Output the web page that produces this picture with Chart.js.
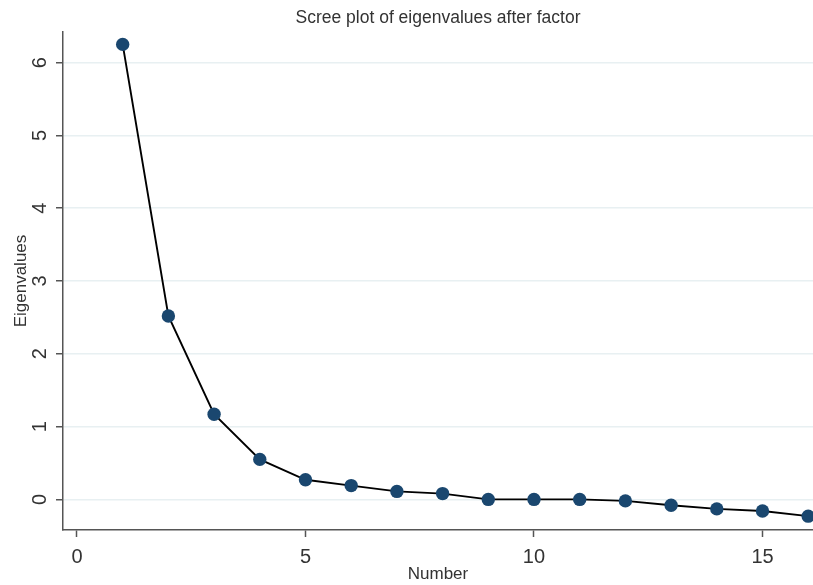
<!DOCTYPE html>
<html>
<head>
<meta charset="utf-8">
<title>Scree plot</title>
<script src="https://cdn.jsdelivr.net/npm/chart.js@4"></script>
<style>
    body { margin: 0; background: #fff; }
    canvas { display: block; }
</style>
</head>
<body>
<canvas id="scree" width="813" height="585"></canvas>
<script>
// data
const numbers = [1, 2, 3, 4, 5, 6, 7, 8, 9, 10, 11, 12, 13, 14, 15, 16];
const eigenvalues = [6.25, 2.52, 1.17, 0.55, 0.27, 0.19, 0.11, 0.08, 0.0, 0.0, 0.0, -0.02, -0.08, -0.13, -0.16, -0.23];
const xTicks = [0, 5, 10, 15];
const yTicks = [0, 1, 2, 3, 4, 5, 6];

const axisColor = '#555';
const textColor = '#333';

Chart.defaults.font.family = '"Liberation Sans", Arial, sans-serif';
Chart.defaults.color = textColor;

new Chart(document.getElementById('scree').getContext('2d'), {
    type: 'scatter',
    data: {
        datasets: [{
            label: 'Eigenvalues',
            data: numbers.map((n, i) => ({ x: n, y: eigenvalues[i] })),
            showLine: true,
            borderColor: '#000',
            borderWidth: 1.9,
            pointRadius: 6.7,
            pointHoverRadius: 6.7,
            pointBackgroundColor: '#1a476f',
            pointBorderWidth: 0,
            clip: false
        }]
    },
    options: {
        responsive: false,
        animation: false,
        layout: { padding: 0, autoPadding: false },
        plugins: {
            legend: { display: false },
            tooltip: { enabled: false },
            title: {
                display: true,
                text: 'Scree plot of eigenvalues after factor',
                fullSize: false,
                color: textColor,
                font: { size: 17.5, weight: 'normal' },
                padding: { top: 8, bottom: 3 }
            }
        },
        scales: {
            x: {
                type: 'linear',
                min: -0.306,
                max: 16.105,
                afterBuildTicks: s => { s.ticks = xTicks.map(v => ({ value: v })); },
                afterFit: s => { s.height = 55; },
                border: { display: true, color: axisColor, width: 1.5 },
                grid: {
                    drawOnChartArea: false,
                    drawTicks: true,
                    tickLength: 7,
                    tickColor: axisColor,
                    tickWidth: 1.5
                },
                ticks: {
                    color: textColor,
                    font: { size: 20 },
                    padding: 8,
                    maxRotation: 0
                },
                title: {
                    display: true,
                    text: 'Number',
                    color: textColor,
                    font: { size: 17 },
                    padding: { top: 0, bottom: 0 }
                }
            },
            y: {
                type: 'linear',
                min: -0.42,
                max: 6.42,
                afterBuildTicks: s => { s.ticks = yTicks.map(v => ({ value: v })); },
                afterFit: s => { s.width = 63; },
                border: { display: true, color: axisColor, width: 1.5 },
                grid: {
                    color: '#e8f0f2',
                    lineWidth: 1.5,
                    drawTicks: true,
                    tickLength: 7,
                    tickColor: axisColor,
                    tickWidth: 1.5
                },
                ticks: {
                    color: textColor,
                    font: { size: 20 },
                    padding: 10,
                    minRotation: 90,
                    maxRotation: 90,
                    crossAlign: 'center'
                },
                title: {
                    display: true,
                    text: 'Eigenvalues',
                    color: textColor,
                    font: { size: 17 },
                    padding: { top: 11, bottom: 0 }
                }
            }
        }
    }
});
</script>
</body>
</html>
